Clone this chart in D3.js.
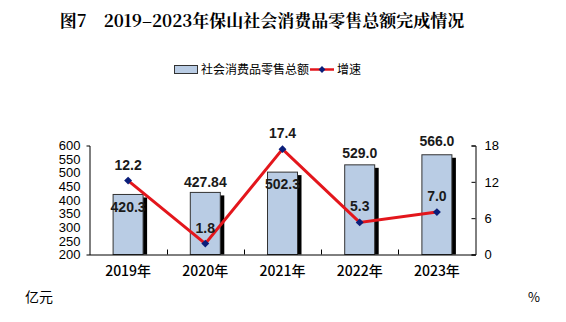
<!DOCTYPE html>
<html><head><meta charset="utf-8">
<script src="https://cdn.jsdelivr.net/npm/d3@7"></script>
<style>body{margin:0;background:#fff}svg{display:block}</style>
</head><body>
<svg id="c" width="566" height="322"></svg>
<script>
const categories = ["2019年","2020年","2021年","2022年","2023年"];
const salesValues = [420.3, 427.84, 502.3, 529.0, 566.0];
const salesLabels = ["420.3","427.84","502.3","529.0","566.0"];
const growthValues = [12.2, 1.8, 17.4, 5.3, 7.0];
const growthLabels = ["12.2","1.8","17.4","5.3","7.0"];
const leftTicks = [200,250,300,350,400,450,500,550,600];
const rightTicks = [0,6,12,18];
// label placement: vertical offset from mark top (styling)
const salesLabelDy = [13, -10, 12, -12, -14];

const svg = d3.select("#c");
const m = {l:89.5, r:475.5, t:145.5, b:254.5};
const cjk = "'Noto Sans CJK SC', sans-serif";
const num = "Arial, 'Liberation Sans', sans-serif";

const x = d3.scaleBand().domain(categories).range([m.l, m.r]);
const yL = d3.scaleLinear().domain([200,600]).range([m.b, m.t]);
const yR = d3.scaleLinear().domain([0,18]).range([m.b, m.t]);

// title
svg.append("text").attr("x",262).attr("y",27).attr("text-anchor","middle")
  .style("font-family","'Noto Serif CJK SC','Noto Sans CJK SC',serif").style("font-weight","bold").style("font-size","17px")
  .text("图7　2019–2023年保山社会消费品零售总额完成情况");

// legend
const lg = svg.append("g");
lg.append("rect").attr("x",174.5).attr("y",65.5).attr("width",23).attr("height",8).attr("fill","#b9cce4").attr("stroke","#333");
lg.append("text").attr("x",201).attr("y",74).style("font-family",cjk).style("font-size","12px").text("社会消费品零售总额");
lg.append("line").attr("x1",310).attr("x2",334).attr("y1",69.5).attr("y2",69.5).attr("stroke","#e3161c").attr("stroke-width",2.5);
lg.append("path").attr("d",d3.symbol(d3.symbolDiamond2,30)()).attr("transform","translate(322,69.5)").attr("fill","#0b1e7a");
lg.append("text").attr("x",337).attr("y",74).style("font-family",cjk).style("font-size","12px").text("增速");

// bars
const bw = 30;
const bars = svg.append("g");
categories.forEach((c,i)=>{
  const cx = x(c) + x.bandwidth()/2;
  const top = yL(salesValues[i]);
  bars.append("rect").attr("x",cx - bw/2 + 4).attr("y",top+3).attr("width",bw).attr("height",m.b - top - 3).attr("fill","#000");
  bars.append("rect").attr("x",cx - bw/2).attr("y",top).attr("width",bw).attr("height",m.b - top)
    .attr("fill","#b9cce4").attr("stroke","#333").attr("stroke-width",1);
});

// axes
const axL = svg.append("g").attr("transform",`translate(${m.l},0)`)
  .call(d3.axisLeft(yL).tickValues(leftTicks).tickSizeInner(0).tickSizeOuter(3).tickPadding(9));
const axR = svg.append("g").attr("transform",`translate(${m.r},0)`)
  .call(d3.axisRight(yR).tickValues(rightTicks).tickSizeInner(-4).tickSizeOuter(-4).tickPadding(9));
[axL,axR].forEach(a=>{
  a.selectAll("text").style("font-family",num).style("font-size","13px").attr("fill","#000");
  a.selectAll("path,line").attr("stroke","#000");
});
const axB = svg.append("g").attr("transform",`translate(0,${m.b})`)
  .call(d3.axisBottom(x).tickSize(0).tickPadding(12));
axB.select("path").attr("stroke","#000");
axB.selectAll("text").style("font-family",cjk).style("font-size","14px").style("font-weight","500").attr("fill","#000");
// category separator ticks
const seps = categories.slice(1).map(c=>x(c));
svg.append("g").selectAll("line").data(seps).join("line")
  .attr("x1",d=>Math.round(d)+0.5).attr("x2",d=>Math.round(d)+0.5).attr("y1",m.b-5).attr("y2",m.b).attr("stroke","#000");

// line
const pts = categories.map((c,i)=>[x(c)+x.bandwidth()/2, yR(growthValues[i])]);
svg.append("path").attr("d",d3.line()(pts)).attr("fill","none").attr("stroke","#e3161c").attr("stroke-width",3);
svg.append("g").selectAll("path").data(pts).join("path")
  .attr("d",d3.symbol(d3.symbolDiamond2,40)()).attr("transform",d=>`translate(${d[0]},${d[1]})`).attr("fill","#0b1e7a");

// labels
const lbl = svg.append("g").style("font-family",num).style("font-size","14px").style("font-weight","bold").attr("text-anchor","middle").attr("fill","#1a1a1a");
categories.forEach((c,i)=>{
  const cx = x(c)+x.bandwidth()/2;
  lbl.append("text").attr("x",cx).attr("y",yL(salesValues[i])+salesLabelDy[i]).attr("dy","0.35em").text(salesLabels[i]);
  lbl.append("text").attr("x",cx).attr("y",yR(growthValues[i])-16).attr("dy","0.35em").text(growthLabels[i]);
});

// units
svg.append("text").attr("x",25).attr("y",302).style("font-family",cjk).style("font-size","14px").text("亿元");
svg.append("text").attr("x",528).attr("y",302).style("font-family",cjk).style("font-size","13px").text("%");
</script>
</body></html>
